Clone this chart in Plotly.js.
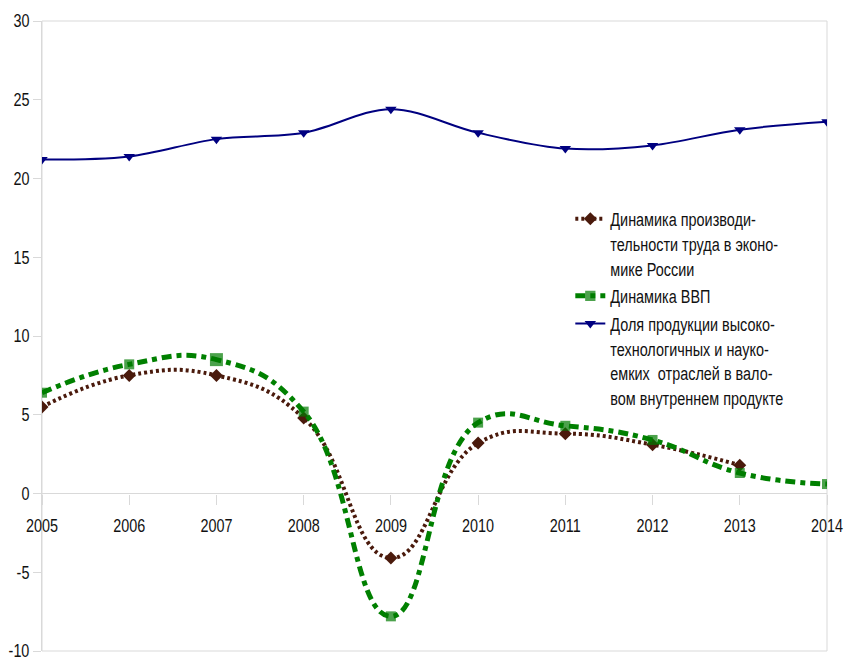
<!DOCTYPE html>
<html>
<head>
<meta charset="utf-8">
<script src="https://cdn.plot.ly/plotly-3.0.1.min.js"></script>
<style>
html,body{margin:0;padding:0;background:#fff;}
#chart{width:844px;height:658px;}
</style>
</head>
<body>
<div id="chart"></div>
<script>
const years = [2005, 2006, 2007, 2008, 2009, 2010, 2011, 2012, 2013, 2014];
const productivityYears = [2005, 2006, 2007, 2008, 2009, 2010, 2011, 2012, 2013];
const productivity = [5.5, 7.5, 7.5, 4.8, -4.1, 3.2, 3.8, 3.1, 1.8];
const gdp = [6.4, 8.2, 8.5, 5.2, -7.8, 4.5, 4.3, 3.4, 1.3, 0.6];
const hiTechShare = [21.2, 21.4, 22.5, 22.9, 24.4, 22.9, 21.9, 22.1, 23.1, 23.6];
const yTicks = [-10, -5, 0, 5, 10, 15, 20, 25, 30];
const yTickLabels = ['-10', '-5', '0', '5', '10', '15', '20', '25', '30'];
const xTickLabels = ['2005', '2006', '2007', '2008', '2009', '2010', '2011', '2012', '2013', '2014'];
const names = [
  'Динамика производи-<br>тельности труда в эконо-<br>мике России',
  'Динамика ВВП',
  'Доля продукции высоко-<br>технологичных и науко-<br>емких  отраслей в вало-<br>вом внутреннем продукте'
];

const FONT = '"Liberation Sans", Arial, sans-serif';

const traces = [
  {
    x: productivityYears, y: productivity, name: names[0],
    mode: 'lines+markers', type: 'scatter',
    line: {color: '#4a1a0c', width: 4, dash: '3px,3px', shape: 'spline', smoothing: 1.3},
    marker: {symbol: 'diamond', size: 10, color: '#4a1a0c', line: {width: 0}}
  },
  {
    x: years, y: gdp, name: names[1],
    mode: 'lines+markers', type: 'scatter',
    line: {color: '#008000', width: 5, dash: '10px,5px,5px,5px', shape: 'spline', smoothing: 1.3},
    marker: {symbol: 'square', size: [10, 10, 13, 10, 10, 10, 10, 10, 10, 10], color: '#007a00', line: {width: 0}}
  },
  {
    x: years, y: hiTechShare, name: names[2],
    mode: 'lines+markers', type: 'scatter',
    line: {color: '#000080', width: 2, shape: 'spline', smoothing: 1.0},
    marker: {symbol: 'triangle-down', size: 10, color: '#000080', line: {width: 0}}
  }
];

const layout = {
  width: 844, height: 658,
  margin: {l: 42, r: 17, t: 21, b: 7, autoexpand: false},
  paper_bgcolor: '#fff', plot_bgcolor: '#fff',
  font: {family: FONT, size: 18, color: '#111'},
  showlegend: true,
  legend: {
    x: 0.673, y: 0.716, xanchor: 'left', yanchor: 'top',
    bgcolor: 'rgba(0,0,0,0)', valign: 'top',
    font: {family: FONT, size: 19, color: '#111'},
    tracegroupgap: 0, itemwidth: 30
  },
  xaxis: {
    range: [2005, 2014],
    tickvals: years, ticktext: xTickLabels,
    anchor: 'free', position: 0.25,
    automargin: false, ticklabeloverflow: 'allow',
    showgrid: false, showline: false, zeroline: false,
    ticks: 'outside', ticklen: 10, tickcolor: '#d9d9d9', tickwidth: 1,
    ticklabelstandoff: 6,
    tickfont: {family: FONT, size: 18, color: '#111'}
  },
  yaxis: {
    range: [-10, 30],
    tickvals: yTicks, ticktext: yTickLabels,
    automargin: false, ticklabeloverflow: 'allow',
    showgrid: false, zeroline: true, zerolinecolor: '#d9d9d9', zerolinewidth: 1,
    showline: true, linecolor: '#d9d9d9', linewidth: 1,
    ticks: 'outside', ticklen: 8, tickcolor: '#d9d9d9',
    tickfont: {family: FONT, size: 18, color: '#111'}
  },
  shapes: [{
    type: 'rect', xref: 'paper', yref: 'paper', x0: 0, x1: 1, y0: 0, y1: 1,
    line: {color: '#d9d9d9', width: 1}, layer: 'below'
  }]
};

function condense(selector, s) {
  document.querySelectorAll(selector).forEach(function (t) {
    const x = parseFloat(t.getAttribute('x')) || 0;
    const prev = t.getAttribute('transform') || '';
    t.setAttribute('transform', prev + ' translate(' + x + ',0) scale(' + s + ',1) translate(' + (-x) + ',0)');
  });
}

Plotly.newPlot('chart', traces, layout, {displayModeBar: false, staticPlot: true}).then(function () {
  condense('#chart .legendtext', 0.76);
  condense('#chart .xtick text', 0.8);
  condense('#chart .ytick text', 0.8);
});
</script>
</body>
</html>
